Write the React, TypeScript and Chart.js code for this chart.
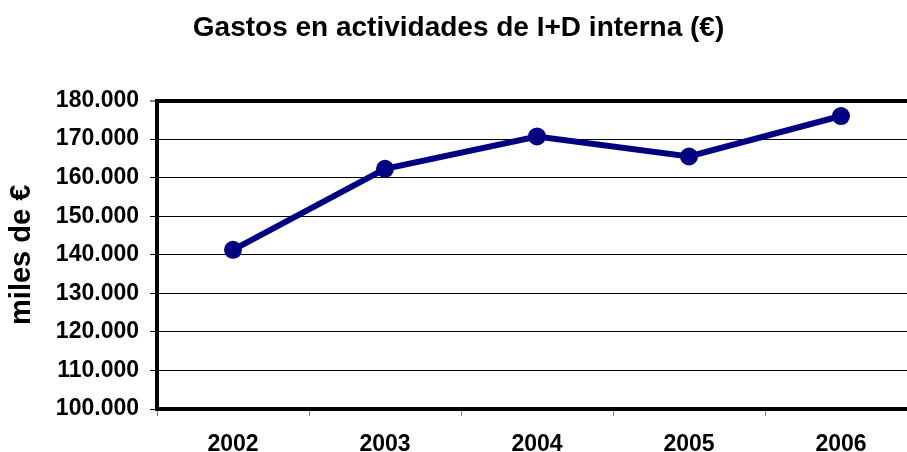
import React, { useEffect, useRef } from 'react';
import { Chart, registerables } from 'chart.js';

Chart.register(...registerables);

const chartTitle = 'Gastos en actividades de I+D interna (€)';
const yAxisTitle = 'miles de €';
const years = ['2002', '2003', '2004', '2005', '2006'];
const spending = [141300, 162300, 170700, 165500, 176000];
const yMin = 100000;
const yMax = 180000;
const yStep = 10000;

const FONT = "'Liberation Sans', Arial, sans-serif";

function formatThousands(v: number): string {
  return String(Math.round(v)).replace(/\B(?=(\d{3})+(?!\d))/g, '.');
}

export default function App() {
  const ref = useRef<HTMLCanvasElement>(null);

  useEffect(() => {
    const chart = new Chart(ref.current!, {
      type: 'line',
      data: {
        labels: years,
        datasets: [
          {
            data: spending,
            borderColor: '#000080',
            backgroundColor: '#000080',
            borderWidth: 6,
            pointRadius: 9,
            pointBackgroundColor: '#000080',
            pointBorderWidth: 0,
            tension: 0,
            clip: false as any,
          },
        ],
      },
      options: {
        responsive: false,
        animation: false,
        devicePixelRatio: 1,
        layout: { padding: { left: 0, right: 23, top: 0, bottom: 0 } },
        plugins: {
          legend: { display: false },
          tooltip: { enabled: false },
          title: {
            display: true,
            text: chartTitle,
            color: '#000',
            font: { family: FONT, size: 28, weight: 'bold' },
            padding: { top: 11, bottom: 56 },
          },
        },
        scales: {
          x: {
            offset: true,
            grid: {
              offset: true,
              drawOnChartArea: false,
              drawTicks: true,
              tickLength: 7,
              color: '#808080',
            },
            border: { display: true, color: '#000', width: 4 },
            ticks: {
              color: '#000',
              font: { family: FONT, size: 23, weight: 'bold' },
              padding: 15,
              maxRotation: 0,
            },
            afterFit: (s: any) => {
              s.height = 43;
            },
          },
          y: {
            min: yMin,
            max: yMax,
            ticks: {
              stepSize: yStep,
              color: '#000',
              font: { family: FONT, size: 23, weight: 'bold' },
              padding: 11,
              callback: (v: any) => formatThousands(Number(v)),
            },
            grid: {
              color: '#000',
              lineWidth: (ctx: any) => (ctx.tick && ctx.tick.value === yMax ? 4 : 1),
              tickWidth: 1,
              tickLength: 7,
              tickColor: '#000',
            },
            border: { display: true, color: '#000', width: 4 },
            title: {
              display: true,
              text: yAxisTitle,
              color: '#000',
              font: { family: FONT, size: 29, weight: 'bold' },
              padding: { top: 5, bottom: 0 },
            },
            afterFit: (s: any) => {
              s.width = 157;
            },
          },
        },
      },
    } as any);
    return () => chart.destroy();
  }, []);

  return (
    <div
      style={{
        position: 'fixed',
        left: 0,
        top: 0,
        width: 907,
        height: 452,
        overflow: 'hidden',
        background: '#fff',
      }}
    >
      <canvas ref={ref} width={940} height={452} style={{ display: 'block' }} />
    </div>
  );
}
